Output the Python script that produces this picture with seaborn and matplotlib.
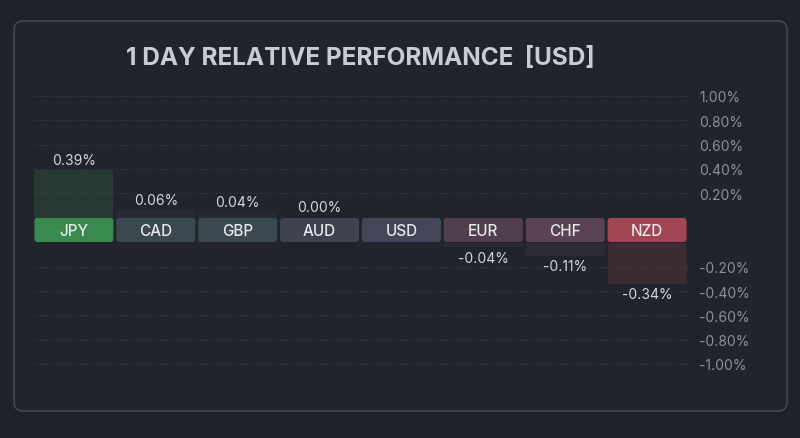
import numpy as np
import seaborn as sns
import matplotlib.pyplot as plt
from matplotlib.patches import FancyBboxPatch
from matplotlib.transforms import IdentityTransform

# 1 day relative performance vs USD
currencies = ['JPY', 'CAD', 'GBP', 'AUD', 'USD', 'EUR', 'CHF', 'NZD']
values = [0.39, 0.06, 0.04, 0.00, 0.00, -0.04, -0.11, -0.34]
base = 'USD'
box_colors = ['#3a8a50', '#3b4850', '#3b4850', '#3f4250', '#424656',
              '#523f4d', '#5a4352', '#a14652']
pos_ticks = [0.2, 0.4, 0.6, 0.8, 1.0]
neg_ticks = [-0.2, -0.4, -0.6, -0.8, -1.0]

bg = '#1f2229'
panel = '#21242c'
grid_c = '#3a3e47'
tick_c = '#8d909a'
text_c = '#d3d6dc'

sns.set_style('dark', {'axes.facecolor': 'none', 'figure.facecolor': bg})
plt.rcParams['font.family'] = ['Inter', 'DejaVu Sans']

W, H = 800, 439
fig = plt.figure(figsize=(W / 100, H / 100), dpi=100)
fig.patch.set_facecolor(bg)

# card behind the chart
card = FancyBboxPatch((14, H - 412), 773, 390, boxstyle='round,pad=0,rounding_size=9',
                      transform=IdentityTransform(), facecolor=panel,
                      edgecolor='#4a4d55', linewidth=1.0, zorder=0)
fig.add_artist(card)

def px(x0, y_top, x1, y_bot):
    return [x0 / W, 1 - y_bot / H, (x1 - x0) / W, (y_bot - y_top) / H]

ax_top = fig.add_axes(px(33, 92, 688, 218.5))
ax_mid = fig.add_axes(px(33, 218.5, 688, 243.5))
ax_bot = fig.add_axes(px(33, 243.5, 688, 371))

pos_vals = [max(v, 0) for v in values]
neg_vals = [min(v, 0) for v in values]

bar_kw = dict(hue=currencies, palette=box_colors, legend=False, width=0.965,
              saturation=1, alpha=0.22, linewidth=0)
sns.barplot(x=currencies, y=pos_vals, ax=ax_top, **bar_kw)
sns.barplot(x=currencies, y=neg_vals, ax=ax_bot, **bar_kw)
sns.barplot(x=currencies, y=[1] * len(currencies), ax=ax_mid, hue=currencies,
            palette=box_colors, legend=False, width=0.965, saturation=1, linewidth=0)

ax_top.set_ylim(0, 1.04)
ax_bot.set_ylim(-1.05, 0)
ax_mid.set_ylim(-0.02, 1.02)

for ax, ticks in [(ax_top, pos_ticks), (ax_bot, neg_ticks)]:
    ax.set_xlim(-0.5, len(currencies) - 0.5)
    ax.set_yticks(ticks)
    ax.set_yticklabels([f'{t:.2f}%' for t in ticks])
    ax.yaxis.tick_right()
    ax.tick_params(axis='y', length=0, pad=8, labelsize=10, labelcolor=tick_c)
    ax.tick_params(axis='x', length=0, labelbottom=False)
    ax.grid(axis='y', color=grid_c, linestyle=(0, (1, 2)), linewidth=0.8)
    ax.set_axisbelow(True)
    ax.set_xlabel('')
    ax.set_ylabel('')
    for s in ax.spines.values():
        s.set_visible(False)

ax_mid.set_xlim(-0.5, len(currencies) - 0.5)
ax_mid.axis('off')

# round the corners of the label boxes a little
x_px = 655 / len(currencies)
y_px = 25 / 1.04
for p in list(ax_mid.patches):
    x0, y0 = p.get_x(), p.get_y()
    w, h = p.get_width(), p.get_height()
    rb = FancyBboxPatch((x0, y0), w, h, boxstyle='round,pad=0,rounding_size=0.035',
                        mutation_aspect=x_px / y_px, facecolor=p.get_facecolor(),
                        linewidth=0)
    p.remove()
    ax_mid.add_patch(rb)

for i, c in enumerate(currencies):
    ax_mid.text(i, 0.47, c, ha='center', va='center', color='#e6e8ec',
                fontsize=11, fontweight='medium')

# value labels
for i, (c, v) in enumerate(zip(currencies, values)):
    if c == base:
        continue
    if v >= 0:
        ax_top.annotate(f'{v:.2f}%', (i, v), xytext=(0, 7.5), textcoords='offset points',
                        ha='center', va='center', color=text_c, fontsize=10)
    else:
        ax_bot.annotate(f'{v:.2f}%', (i, v), xytext=(0, -7.5), textcoords='offset points',
                        ha='center', va='center', color=text_c, fontsize=10)

fig.text(360.5 / W, 1 - 59 / H, '1 DAY RELATIVE PERFORMANCE  [USD]', ha='center',
         va='center', fontsize=17.5, fontweight='bold', color='#c9ccd3')

fig.savefig('out.png', dpi=100, facecolor=bg)
